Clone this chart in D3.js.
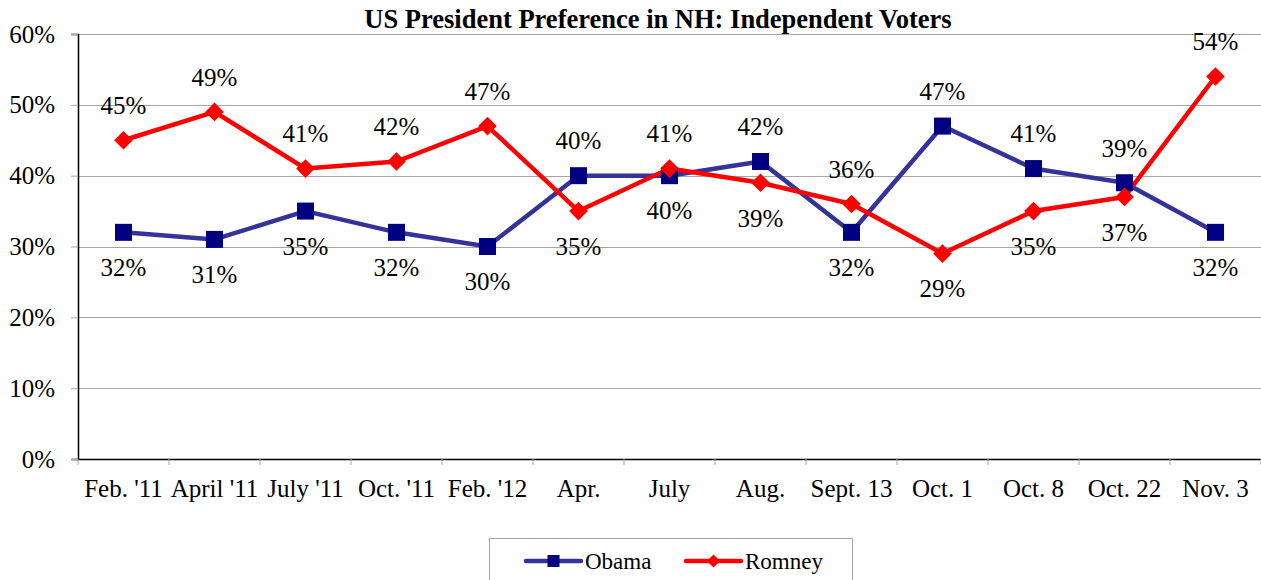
<!DOCTYPE html>
<html>
<head>
<meta charset="utf-8">
<script src="https://cdn.jsdelivr.net/npm/d3@7"></script>
<style>
  body { margin: 0; background: #fff; }
  text { font-family: "Liberation Serif", "Times New Roman", serif; }
</style>
</head>
<body>
<svg id="chart" width="1261" height="580" font-family="Liberation Serif"></svg>
<script>
const categories = ["Feb. '11", "April '11", "July '11", "Oct. '11", "Feb. '12", "Apr.", "July", "Aug.", "Sept. 13", "Oct. 1", "Oct. 8", "Oct. 22", "Nov. 3"];
const obama = [0.32, 0.31, 0.35, 0.32, 0.30, 0.40, 0.40, 0.42, 0.32, 0.47, 0.41, 0.39, 0.32];
const romney = [0.45, 0.49, 0.41, 0.42, 0.47, 0.35, 0.41, 0.39, 0.36, 0.29, 0.35, 0.37, 0.54];
const yTicks = [0, 0.1, 0.2, 0.3, 0.4, 0.5, 0.6];

const svg = d3.select("#chart");
const plotLeft = 78, plotRight = 1261, plotTop = 34, plotBottom = 459;

const x = d3.scaleBand().domain(categories).range([plotLeft, plotRight]);
const y = d3.scaleLinear().domain([0, 0.6]).range([plotBottom, plotTop]);
const cx = (c) => x(c) + x.bandwidth() / 2;
const pct = d3.format(".0%");

// title
svg.append("text")
  .attr("x", 658).attr("y", 28)
  .attr("text-anchor", "middle")
  .style("font-weight", "bold")
  .style("font-size", "26.5px")
  .text("US President Preference in NH: Independent Voters");

// gridlines
svg.append("g")
  .selectAll("line")
  .data(yTicks.slice(1))
  .join("line")
  .attr("x1", plotLeft).attr("x2", plotRight)
  .attr("y1", (d) => Math.round(y(d)) + 0.5)
  .attr("y2", (d) => Math.round(y(d)) + 0.5)
  .attr("stroke", "#a6a6a6");

// y axis
const yAxis = svg.append("g")
  .attr("transform", `translate(${plotLeft},0)`)
  .call(d3.axisLeft(y).tickValues(yTicks).tickFormat(pct).tickSize(7).tickPadding(16));
yAxis.attr("font-family", null);
yAxis.select(".domain").attr("stroke", "#000").attr("stroke-width", 1.5);
yAxis.selectAll(".tick line").attr("stroke", "#a6a6a6");
yAxis.selectAll(".tick text").style("font-size", "25px").attr("fill", "#000");

// x axis
const xAxis = svg.append("g")
  .attr("transform", `translate(0,${plotBottom})`)
  .call(d3.axisBottom(x).tickSize(0).tickPadding(20));
xAxis.attr("font-family", null);
xAxis.select(".domain").attr("stroke", "#000").attr("stroke-width", 1.5);
xAxis.selectAll(".tick text").style("font-size", "25px").attr("fill", "#000");
xAxis.append("g")
  .selectAll("line")
  .data(categories.concat([null]))
  .join("line")
  .attr("x1", (d, i) => plotLeft + i * x.bandwidth())
  .attr("x2", (d, i) => plotLeft + i * x.bandwidth())
  .attr("y1", 0).attr("y2", 6)
  .attr("stroke", "#a6a6a6");

const line = d3.line().x((d, i) => cx(categories[i])).y((d) => y(d));

const series = [
  { name: "Obama", values: obama, other: romney, stroke: "#333399", marker: "#000080", shape: "square" },
  { name: "Romney", values: romney, other: obama, stroke: "#ff0000", marker: "#ff0000", shape: "diamond" },
];

function drawMarker(g, s, size) {
  if (s.shape === "square") {
    g.append("rect")
      .attr("x", -size / 2).attr("y", -size / 2)
      .attr("width", size).attr("height", size)
      .attr("fill", s.marker);
  } else {
    const h = size * 0.55;
    g.append("path")
      .attr("d", `M0,${-h}L${h},0L0,${h}L${-h},0Z`)
      .attr("fill", s.marker);
  }
}

series.forEach((s) => {
  svg.append("path")
    .datum(s.values)
    .attr("d", line)
    .attr("fill", "none")
    .attr("stroke", s.stroke)
    .attr("stroke-width", 4.5)
    .attr("stroke-linejoin", "round");
});

series.forEach((s) => {
  s.values.forEach((v, i) => {
    const g = svg.append("g").attr("transform", `translate(${cx(categories[i])},${y(v)})`);
    drawMarker(g, s, 17);
  });
});

series.forEach((s) => {
  svg.append("g")
    .selectAll("text")
    .data(s.values)
    .join("text")
    .attr("x", (d, i) => cx(categories[i]))
    .attr("y", (d, i) => y(d) + (d > s.other[i] ? -35 : 35))
    .attr("dy", "0.35em")
    .attr("text-anchor", "middle")
    .style("font-size", "25px")
    .text((d) => pct(d));
});

// legend
const legend = svg.append("g");
legend.append("rect")
  .attr("x", 489.5).attr("y", 538.5)
  .attr("width", 363).attr("height", 60)
  .attr("fill", "#fff").attr("stroke", "#a6a6a6");
const legendX = [526, 686];
series.forEach((s, i) => {
  const g = legend.append("g").attr("transform", `translate(${legendX[i]},561)`);
  g.append("line").attr("x1", 0).attr("x2", 55).attr("y1", 0).attr("y2", 0)
    .attr("stroke", s.stroke).attr("stroke-width", 4.5).attr("stroke-linecap", "round");
  const m = g.append("g").attr("transform", "translate(27.5,0)");
  drawMarker(m, s, 12);
  g.append("text").attr("x", 59).attr("y", 0).attr("dy", "0.35em")
    .style("font-size", "23px").text(s.name);
});
</script>
</body>
</html>
